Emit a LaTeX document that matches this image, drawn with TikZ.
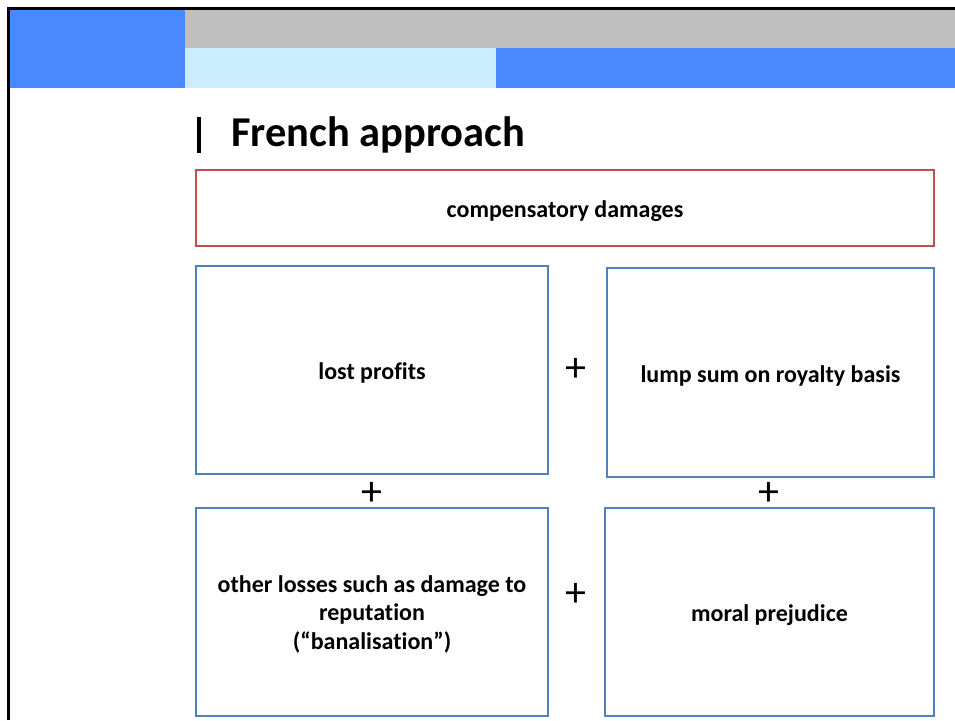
\documentclass[tikz,border=0pt]{standalone}
\usepackage{fontspec}
\setmainfont{Carlito}[Ligatures={NoCommon}]
\definecolor{hdrblue}{HTML}{4A88FF}
\definecolor{hdrlight}{HTML}{CCECFF}
\definecolor{hdrgray}{HTML}{BFBFBF}
\definecolor{boxblue}{HTML}{4F81BD}
\definecolor{boxred}{HTML}{C0504D}
\tikzset{
  bluebox/.style={draw=boxblue, line width=2pt, fill=white},
  redbox/.style={draw=boxred, line width=2pt, fill=white},
  boxtext/.style={font=\fontsize{24}{28.5}\selectfont\bfseries, align=center},
  plussign/.style={font=\fontsize{42}{42}\selectfont, inner sep=0pt},
}
\begin{document}
\begin{tikzpicture}[x=1pt,y=-1pt]
\useasboundingbox (0,0) rectangle (955,720);
\fill[white] (0,0) rectangle (955,720);
% header
\fill[hdrblue] (10,10) rectangle (185,88);
\fill[hdrgray] (185,10) rectangle (955,47.5);
\fill[hdrlight] (185,47.5) rectangle (496,88);
\fill[hdrblue] (496,47.5) rectangle (955,88);
\draw[line width=2.6pt] (8.5,720) -- (8.5,8.5) -- (955,8.5);
% title
\fill[black] (197,117) rectangle (200.5,153);
\node[anchor=base west, inner sep=0pt, font=\fontsize{42.5}{42.5}\selectfont\bfseries] (title) at (231,146.5) {French approach};
% boxes
\draw[redbox] (196,170) rectangle (934,246);
\node[boxtext] (comp) at (565,211) {compensatory damages};
\draw[bluebox] (196,266) rectangle (548,474);
\node[boxtext] (lost) at (372,373) {lost profits};
\draw[bluebox] (607,268) rectangle (934,477);
\node[boxtext] (lump) at (770.5,376) {lump sum on royalty basis};
\draw[bluebox] (196,508) rectangle (548,716);
\node[boxtext] (other) at (372,614) {other losses such as damage to\\ reputation\\ (“banalisation”)};
\draw[bluebox] (605,508) rectangle (934,716);
\node[boxtext] (moral) at (769.5,615) {moral prejudice};
% plus signs
\node[plussign] (p1) at (576,370) {+};
\node[plussign] (p2) at (372,494) {+};
\node[plussign] (p3) at (769,494) {+};
\node[plussign] (p4) at (576,595) {+};
\end{tikzpicture}
\end{document}
